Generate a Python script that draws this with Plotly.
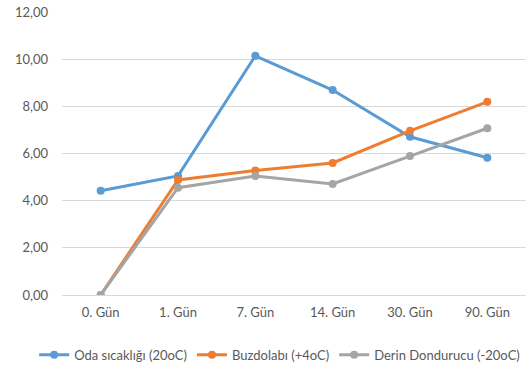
import plotly.graph_objects as go

# Storage days and measured values for each storage condition
days = ["0. Gün", "1. Gün", "7. Gün", "14. Gün", "30. Gün", "90. Gün"]
oda = [4.42, 5.05, 10.14, 8.69, 6.71, 5.82]
buzdolabi = [0.0, 4.88, 5.28, 5.60, 6.96, 8.19]
derin = [0.0, 4.55, 5.05, 4.71, 5.89, 7.07]

series = [
    ("Oda sıcaklığı (20oC)", oda, "#5B9BD5"),
    ("Buzdolabı (+4oC)", buzdolabi, "#ED7D31"),
    ("Derin Dondurucu (-20oC)", derin, "#A5A5A5"),
]

fig = go.Figure()
for name, vals, color in series:
    fig.add_trace(go.Scatter(
        x=days, y=vals, name=name, mode="lines+markers",
        line=dict(color=color, width=3),
        marker=dict(color=color, size=8),
    ))

font_family = "Lato, 'Open Sans', sans-serif"
fig.update_layout(
    width=529, height=369,
    margin=dict(l=62, r=3, t=12, b=74, autoexpand=False),
    paper_bgcolor="white", plot_bgcolor="white",
    separators=",.",
    font=dict(family=font_family, size=13, color="#595959"),
    showlegend=True,
    legend=dict(orientation="h", x=-0.06, xanchor="left", y=-0.158, yanchor="top",
                font=dict(size=13, color="#595959"), itemwidth=30,
                tracegroupgap=0, bgcolor="rgba(0,0,0,0)"),
    xaxis=dict(range=[-0.5, 5.5], showgrid=False, showline=False, ticks="",
               tickfont=dict(size=13), ticklabelstandoff=8),
    yaxis=dict(range=[0, 12], dtick=2, tickformat=".2f", showgrid=True,
               gridcolor="#D9D9D9", gridwidth=1, zeroline=True, zerolinecolor="#D9D9D9",
               zerolinewidth=1, showline=False, ticks="", tickfont=dict(size=13),
               ticklabelstandoff=13),
)

fig.write_html("out.html")
